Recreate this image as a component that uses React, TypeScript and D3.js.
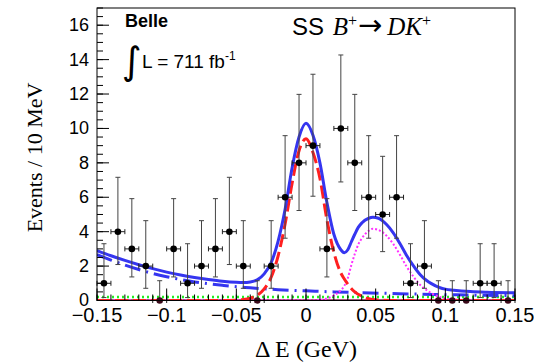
import React from "react";
import * as d3 from "d3";

// ---- data ----
const binCenters = [
  -0.145, -0.135, -0.125, -0.115, -0.105, -0.095, -0.085, -0.075, -0.065, -0.055,
  -0.045, -0.035, -0.025, -0.015, -0.005, 0.005, 0.015, 0.025, 0.035, 0.045,
  0.055, 0.065, 0.075, 0.085, 0.095, 0.105, 0.115, 0.125, 0.135, 0.145,
];
const counts = [1, 4, 3, 2, 0, 3, 1, 2, 3, 4, 2, 0, 2, 6, 8, 9, 3, 10, 8, 6, 5, 6, 1, 2, 0, 0, 0, 1, 1, 0];
const errLow = [
  0.17, 2.09, 1.37, 0.71, 0, 1.37, 0.17, 0.71, 1.37, 2.09, 0.71, 0, 0.71, 3.62, 5.23,
  6.06, 1.37, 6.89, 5.23, 3.62, 2.84, 3.62, 0.17, 0.71, 0, 0, 0, 0.17, 0.17, 0,
];
const errHigh = [
  3.3, 7.16, 5.92, 4.64, 1.15, 5.92, 3.3, 4.64, 5.92, 7.16, 4.64, 1.15, 4.64, 9.58, 11.98,
  13.15, 5.92, 14.27, 11.98, 9.58, 8.38, 9.58, 3.3, 4.64, 1.15, 1.15, 1.15, 3.3, 3.3, 1.15,
];
const binHalfWidth = 0.005;

const totalFit: [number, number][] = [
  [-0.15, 2.9], [-0.14, 2.6], [-0.13, 2.33], [-0.12, 2.08], [-0.11, 1.85], [-0.1, 1.65],
  [-0.09, 1.48], [-0.08, 1.34], [-0.07, 1.22], [-0.06, 1.12], [-0.05, 1.06], [-0.045, 1.05],
  [-0.04, 1.08], [-0.035, 1.2], [-0.03, 1.55], [-0.025, 2.2], [-0.02, 3.45], [-0.015, 5.3],
  [-0.01, 7.7], [-0.005, 9.5], [0, 10.3], [0.005, 9.6], [0.01, 8.0], [0.015, 5.7],
  [0.02, 3.85], [0.025, 2.95], [0.0275, 2.78], [0.03, 2.95], [0.0325, 3.4], [0.035, 3.85],
  [0.0375, 4.25], [0.04, 4.5], [0.045, 4.78], [0.048, 4.84], [0.052, 4.78], [0.058, 4.4],
  [0.0625, 3.95], [0.0675, 3.3], [0.072, 2.65], [0.077, 2.03], [0.082, 1.5], [0.0866, 1.16],
  [0.09, 0.98], [0.0962, 0.74], [0.1, 0.66], [0.106, 0.6], [0.118, 0.52], [0.13, 0.48],
  [0.15, 0.45],
];
const signalPdf: [number, number][] = [
  [-0.15, 0], [-0.06, 0], [-0.05, 0.02], [-0.045, 0.06], [-0.04, 0.14], [-0.035, 0.3],
  [-0.03, 0.68], [-0.025, 1.35], [-0.02, 2.6], [-0.015, 4.45], [-0.01, 6.8], [-0.005, 8.7],
  [0, 9.4], [0.005, 8.6], [0.01, 7.1], [0.015, 4.7], [0.02, 2.8], [0.025, 1.6], [0.0275, 1.25],
  [0.03, 0.95], [0.035, 0.5], [0.04, 0.25], [0.045, 0.1], [0.05, 0.04], [0.055, 0.01],
  [0.06, 0], [0.15, 0],
];
const peakingPdf: [number, number][] = [
  [-0.15, 0], [0.005, 0], [0.01, 0.04], [0.015, 0.12], [0.02, 0.3], [0.025, 0.6], [0.0275, 0.85],
  [0.03, 1.3], [0.0325, 2.05], [0.035, 2.7], [0.0375, 3.25], [0.04, 3.6], [0.045, 4.05],
  [0.048, 4.17], [0.052, 4.1], [0.058, 3.75], [0.0625, 3.3], [0.0675, 2.65], [0.072, 2.0],
  [0.077, 1.4], [0.082, 0.9], [0.0866, 0.6], [0.09, 0.42], [0.0962, 0.2], [0.1, 0.12],
  [0.106, 0.06], [0.115, 0.01], [0.12, 0], [0.15, 0],
];
const combBkg: [number, number][] = [
  [-0.15, 2.67], [-0.14, 2.35], [-0.13, 2.06], [-0.12, 1.8], [-0.11, 1.57], [-0.1, 1.38],
  [-0.09, 1.22], [-0.08, 1.08], [-0.07, 0.97], [-0.06, 0.88], [-0.05, 0.8], [-0.04, 0.74],
  [-0.03, 0.68], [-0.02, 0.63], [-0.01, 0.59], [0, 0.56], [0.02, 0.5], [0.04, 0.45],
  [0.06, 0.41], [0.08, 0.37], [0.1, 0.34], [0.12, 0.31], [0.15, 0.28],
];
const flatBkg: [number, number][] = [[-0.15, 0.2], [0.15, 0.2]];

const yTicks = [0, 2, 4, 6, 8, 10, 12, 14, 16];
const yTickLabels = ["0", "2", "4", "6", "8", "10", "12", "14", "16"];
const xTicks = [-0.15, -0.1, -0.05, 0, 0.05, 0.1, 0.15];
const xTickLabels = ["\u22120.15", "\u22120.1", "\u22120.05", "0", "0.05", "0.1", "0.15"];

const BLUE = "#3535f0";
const RED = "#ff2020";
const MAGENTA = "#ff30ff";
const GREEN = "#22ee22";
const SANS = "'Liberation Sans', Arial, Helvetica, sans-serif";
const SERIF = "'Liberation Serif', 'Times New Roman', serif";

export default function App() {
  const W = 534;
  const H = 362;
  const L = 97, R = 515, T = 8, B = 300.5;
  const x = d3.scaleLinear().domain([-0.15, 0.15]).range([L, R]);
  const y = d3.scaleLinear().domain([0, 17]).range([B, T]);
  const line = d3
    .line<[number, number]>()
    .x((d) => x(d[0]))
    .y((d) => y(d[1]))
    .curve(d3.curveMonotoneX);

  const yMinor = d3.range(0, 17.01, 0.5);
  const xMinor = d3.range(-15, 16, 1).map((v) => v / 100);

  return (
    <div style={{ position: "fixed", left: 0, top: 0 }}>
      <svg width={W} height={H} viewBox={`0 0 ${W} ${H}`} style={{ display: "block", background: "#fff" }}>
        <defs>
          <clipPath id="frame">
            <rect x={L} y={T} width={R - L} height={B - T} />
          </clipPath>
        </defs>
        <rect x={0} y={0} width={W} height={H} fill="#fff" />

        {/* curves */}
        <g clipPath="url(#frame)" fill="none">
          <line x1={L} x2={R} y1={B} y2={B} stroke="#8a1c4c" strokeWidth={2.5} />
          <path d={line(flatBkg) || ""} stroke={GREEN} strokeWidth={2.5} strokeDasharray="2 3" />
          <path d={line(combBkg) || ""} stroke={BLUE} strokeWidth={3} strokeDasharray="16 6 2 6" />
          <path d={line(peakingPdf) || ""} stroke={MAGENTA} strokeWidth={2} strokeDasharray="2 2" />
          <path d={line(signalPdf) || ""} stroke={RED} strokeWidth={3} strokeDasharray="13 5" />
          <path d={line(totalFit) || ""} stroke={BLUE} strokeWidth={3} />
        </g>

        {/* data */}
        <g>
          {binCenters.map((c, i) => {
            const cx = x(c);
            const cy = y(counts[i]);
            const yl = y(errLow[i]);
            const yh = y(errHigh[i]);
            const xl = x(c - binHalfWidth);
            const xr = x(c + binHalfWidth);
            return (
              <g key={i}>
                <line x1={cx} x2={cx} y1={yl} y2={yh} stroke="#444" strokeWidth={1} />
                <line x1={cx - 2.5} x2={cx + 2.5} y1={yh} y2={yh} stroke="#444" strokeWidth={1} />
                <line x1={cx - 2.5} x2={cx + 2.5} y1={yl} y2={yl} stroke="#444" strokeWidth={1} />
                <line x1={xl} x2={xr} y1={cy} y2={cy} stroke="#222" strokeWidth={1} />
                <line x1={xl} x2={xl} y1={cy - 2.5} y2={cy + 2.5} stroke="#222" strokeWidth={1} />
                <line x1={xr} x2={xr} y1={cy - 2.5} y2={cy + 2.5} stroke="#222" strokeWidth={1} />
                <circle cx={cx} cy={cy} r={3.3} fill={counts[i] === 0 ? "#3a0a1a" : "#000"} />
              </g>
            );
          })}
        </g>

        {/* frame */}
        <rect x={L} y={T} width={R - L} height={B - T} fill="none" stroke="#000" strokeWidth={1} />

        {/* y axis ticks */}
        {yMinor.map((v, i) => (
          <line key={"ym" + i} x1={L} x2={L + 6} y1={y(v)} y2={y(v)} stroke="#000" strokeWidth={1} />
        ))}
        {yTicks.map((v, i) => (
          <g key={"yt" + i}>
            <line x1={L} x2={L + 12} y1={y(v)} y2={y(v)} stroke="#000" strokeWidth={1} />
            <text x={89} y={y(v)} dy="0.33em" textAnchor="end" fontFamily={SANS} fontSize={18} fill="#000">
              {yTickLabels[i]}
            </text>
          </g>
        ))}

        {/* x axis ticks */}
        {xMinor.map((v, i) => (
          <line key={"xm" + i} x1={x(v)} x2={x(v)} y1={B} y2={B - 6} stroke="#000" strokeWidth={1} />
        ))}
        {xTicks.map((v, i) => (
          <g key={"xt" + i}>
            <line x1={x(v)} x2={x(v)} y1={B} y2={B - 12} stroke="#000" strokeWidth={1} />
            <text x={x(v)} y={322} textAnchor="middle" fontFamily={SANS} fontSize={20} fill="#000">
              {xTickLabels[i]}
            </text>
          </g>
        ))}

        {/* axis titles */}
        <text transform="rotate(-90)" x={-157.5} y={42} textAnchor="middle" fontFamily={SERIF} fontSize={22} fill="#000">
          Events / 10 MeV
        </text>
        <text x={306} y={357} textAnchor="middle" fontFamily={SERIF} fontSize={24} fill="#000">
          {"\u0394 E (GeV)"}
        </text>

        {/* labels */}
        <text x={125} y={27} fontFamily={SANS} fontWeight="bold" fontSize={18} fill="#000">
          Belle
        </text>
        <text x={122} y={74} fontFamily="'DejaVu Sans', sans-serif" fontSize={38} fill="#000">
          {"\u222B"}
        </text>
        <text x={142} y={68} fontFamily={SANS} fontSize={19} fill="#000">
          {"L = 711 fb"}
          <tspan fontSize={12} dy={-8}>-1</tspan>
        </text>

        <text x={292} y={34.5} fontFamily={SANS} fontSize={24} fill="#000">
          {"SS "}
          <tspan fontFamily={SERIF} fontStyle="italic" fontSize={25} dx={2}>B</tspan>
          <tspan fontFamily={SERIF} fontSize={16} dy={-9}>+</tspan>
          <tspan fontFamily="'DejaVu Sans', sans-serif" fontSize={29} dy={9} dx={1}>{"\u2192"}</tspan>
          <tspan fontFamily={SERIF} fontStyle="italic" fontSize={25} dx={5}>DK</tspan>
          <tspan fontFamily={SERIF} fontSize={16} dy={-9}>+</tspan>
        </text>
      </svg>
    </div>
  );
}
